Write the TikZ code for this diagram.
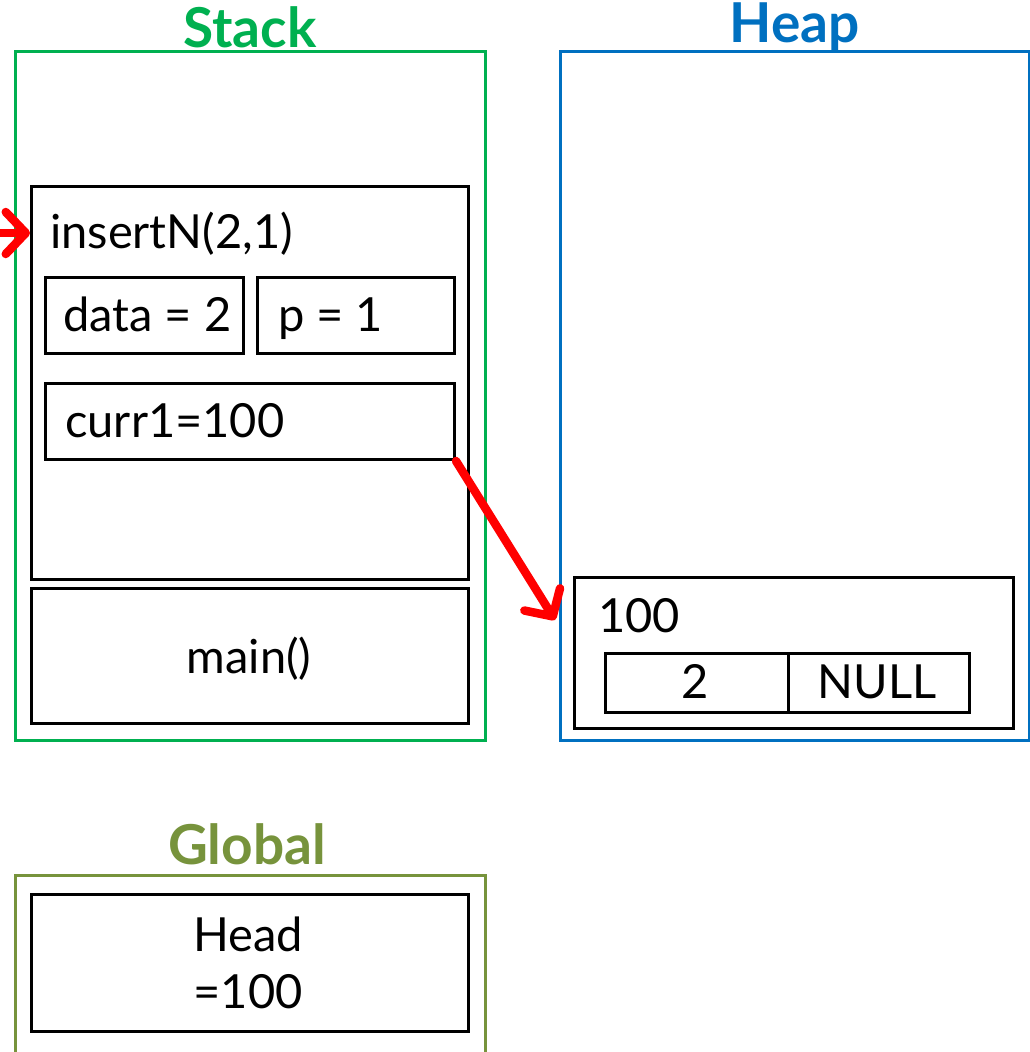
\documentclass[tikz,border=0pt]{standalone}
\usepackage{fontspec}
\setmainfont{Lato}
\usetikzlibrary{arrows.meta,calc}
\definecolor{stackgreen}{HTML}{00B050}
\definecolor{heapblue}{HTML}{0070C0}
\definecolor{globalolive}{HTML}{77933C}
\definecolor{arrowred}{HTML}{FF0000}
\begin{document}
\begin{tikzpicture}[x=1pt,y=-1pt,
  container/.style={draw, line width=3pt, inner sep=0pt, anchor=north west},
  cell/.style={draw=black, line width=3pt, inner sep=0pt, anchor=north west},
  txt/.style={inner sep=0pt, font=\fontsize{47}{54}\selectfont},
  title/.style={inner sep=0pt, font=\fontsize{55}{60}\selectfont\bfseries},
  redarrow/.style={draw=arrowred, line width=8.5pt, line cap=round,
    -{Straight Barb[length=20pt,width=42pt,line cap=round,line join=round]}}
]
\useasboundingbox (0,0) rectangle (1030,1052);
\begin{scope}
\clip (0,0) rectangle (1030,1052);
% Stack
\node[container, draw=stackgreen, minimum width=470pt, minimum height=689pt] (stack) at (14,50) {};
\node[title, text=stackgreen] (stacktitle) at (250,27) {Stack};
\node[cell, minimum width=437pt, minimum height=393pt] (frame) at (30,185) {};
\node[txt, anchor=base west] (fname) at (50,248) {insertN(2,1)};
\node[cell, minimum width=198pt, minimum height=76pt] (data) at (44,276) {};
\node[txt, anchor=base west] (datatxt) at (63,331) {data = 2};
\node[cell, minimum width=197pt, minimum height=76pt] (p) at (256,276) {};
\node[txt, anchor=base west] (ptxt) at (278,331) {p = 1};
\node[cell, minimum width=409pt, minimum height=76pt] (curr) at (44,382) {};
\node[txt, anchor=base west] (currtxt) at (65,437) {curr1=100};
\node[cell, minimum width=437pt, minimum height=135pt] (main) at (30,587) {};
\node[txt, anchor=base] (maintxt) at (249,673) {main()};
% Heap
\node[container, draw=heapblue, minimum width=469pt, minimum height=689pt] (heap) at (559,50) {};
\node[title, text=heapblue] (heaptitle) at (795,27) {Heap};
\node[cell, minimum width=439pt, minimum height=151pt] (obj) at (573,576) {};
\node[txt, anchor=base west] (objtxt) at (598,632) {100};
\node[cell, minimum width=183pt, minimum height=59pt] (val) at (604,652) {};
\node[txt, anchor=base] (valtxt) at (695,698) {2};
\node[cell, minimum width=181pt, minimum height=59pt] (nxt) at (787,652) {};
\node[txt, anchor=base] (nxttxt) at (877,698) {NULL};
% Global
\node[container, draw=globalolive, minimum width=470pt, minimum height=200pt] (global) at (14,874) {};
\node[title, text=globalolive] (globaltitle) at (247,844) {Global};
\node[cell, minimum width=437pt, minimum height=137pt] (head) at (30,893) {};
\node[txt, align=center, font=\fontsize{47}{57}\selectfont] (headtxt) at (248,963) {Head\\=100};
% Arrows
\coordinate (src) at (-20,233);
\draw[redarrow] (src) -- (src -| frame.west);
\coordinate (t2) at (555,620);
\draw[redarrow] (curr.south east) -- (t2);
\end{scope}
\end{tikzpicture}
\end{document}
